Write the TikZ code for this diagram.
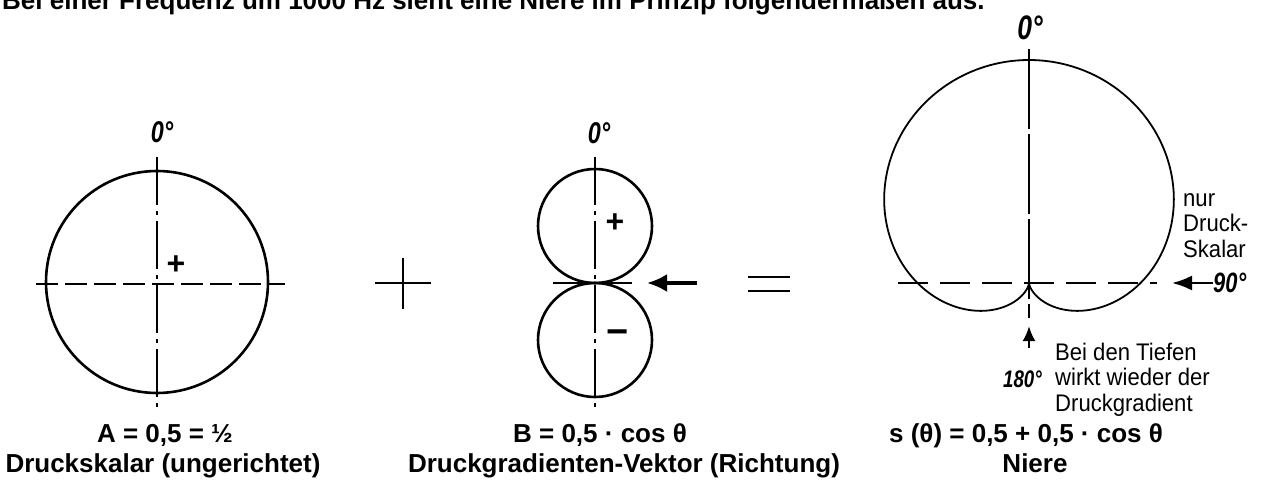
\documentclass[tikz,border=0pt]{standalone}
\usepackage{fontspec}
\setmainfont{Liberation Sans}
\newfontfamily\schmal[FakeStretch=0.92]{Liberation Sans}
\newfontfamily\winkelschrift[FakeStretch=0.78]{Liberation Sans}
\usetikzlibrary{arrows.meta}

\begin{document}
\begin{tikzpicture}[
    x=1pt,
    y=-1pt,
    kreis/.style={line width=2.6pt},
    niere/.style={line width=1.8pt},
    strich/.style={line width=1.2pt, dash pattern=on 22pt off 7pt},
    kette/.style={line width=1.2pt, dash pattern=on 48pt off 6pt on 4pt off 6pt},
    winkel/.style={font=\winkelschrift\bfseries\itshape\fontsize{30}{30}\selectfont, inner sep=0pt},
    zeichen/.style={font=\bfseries\fontsize{32}{32}\selectfont, inner sep=0pt},
    formel/.style={font=\bfseries\fontsize{26}{30}\selectfont, anchor=base, inner sep=0pt},
    notiz/.style={font=\schmal\fontsize{24}{25.5}\selectfont, align=left, anchor=base west, inner sep=0pt}
]
    \useasboundingbox (0,0) rectangle (1268,481);
    \clip (0,0) rectangle (1268,481);

    \node[anchor=base west, inner sep=0pt, font=\bfseries\fontsize{26}{30}\selectfont] (titel) at (2,10)
        {Bei einer Frequenz um 1000 Hz sieht eine Niere im Prinzip folgendermaßen aus.};

    % Druckskalar
    \draw[kreis] (157,282) circle[radius=111pt];
    \draw[strich] (36,284) -- (285,284);
    \draw[kette] (157,157) -- (157,408);
    \node[winkel] (nullA) at (162,132) {0°};
    \node[zeichen] (plusA) at (176,265) {+};

    \draw[line width=2.4pt] (375,283) -- (431,283) (403,258) -- (403,309);

    % Druckgradient
    \draw[kreis] (595,226) circle[radius=57pt];
    \draw[kreis] (595,340) circle[radius=57pt];
    \draw[line width=1.2pt] (553,283) -- (632,283);
    \draw[kette] (595,157) -- (595,408);
    \node[winkel] (nullB) at (599,133) {0°};
    \node[zeichen] (plusB) at (615,223) {+};
    \node[zeichen, font=\bfseries\fontsize{38}{38}\selectfont] (minusB) at (618,337) {−};
    \coordinate (fussB) at (697,283);
    \coordinate (spitzeB) at (647,283);
    \draw[-{Latex[length=20pt,width=18pt]}, line width=3.5pt] (fussB) -- (spitzeB);

    \draw[line width=2.4pt] (748,277) -- (790,277) (748,291) -- (790,291);

    % Niere
    \draw[niere] plot[domain=-180:180, samples=181, smooth]
        ({1029+223*(0.5+0.5*cos(\x))*sin(\x)}, {283-223*(0.5+0.5*cos(\x))*cos(\x)});
    \draw[line width=1.2pt, dash pattern=on 30pt off 12pt] (898,283) -- (1157,283);
    \draw[line width=1.2pt, dash pattern=on 80pt off 5pt] (1029,49) -- (1029,318);
    \node[winkel, font=\winkelschrift\bfseries\itshape\fontsize{34}{34}\selectfont] (nullC) at (1030,28) {0°};
    \node[winkel, anchor=west, font=\winkelschrift\bfseries\itshape\fontsize{28}{28}\selectfont] (neunzig) at (1213,283) {90°};
    \coordinate (spitzeC) at (1172,283);
    \draw[-{Latex[length=20pt,width=15pt]}, line width=2.2pt] (neunzig.west) -- (spitzeC);
    \node[winkel, anchor=base east, font=\winkelschrift\bfseries\itshape\fontsize{24}{24}\selectfont] (hundertachtzig) at (1042,387) {180°};
    \coordinate (fussC) at (1029,348);
    \coordinate (spitzeD) at (1029,326);
    \draw[-{Latex[length=15pt,width=13pt]}, line width=2.6pt] (fussC) -- (spitzeD);
    \node[notiz] (skalar) at (1183,257) {nur\\Druck-\\Skalar};
    \node[notiz] (tiefen) at (1055,411) {Bei den Tiefen\\wirkt wieder der\\Druckgradient};

    % Beschriftung
    \node[formel] (formelA) at (165,442) {A = 0,5 = ½};
    \node[formel] (legendeA) at (163,472) {Druckskalar (ungerichtet)};
    \node[formel] (formelB) at (600,442) {B = 0,5 · cos θ};
    \node[formel] (legendeB) at (624,472) {Druckgradienten-Vektor (Richtung)};
    \node[formel] (formelC) at (1026,442) {s (θ) = 0,5 + 0,5 · cos θ};
    \node[formel] (legendeC) at (1035,472) {Niere};
\end{tikzpicture}
\end{document}
